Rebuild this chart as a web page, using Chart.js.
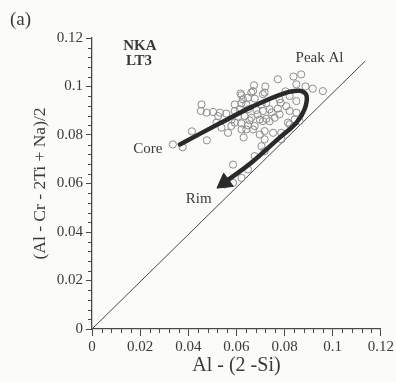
<!DOCTYPE html>
<html>
<head>
<meta charset="utf-8">
<script src="https://cdn.jsdelivr.net/npm/chart.js@4/dist/chart.umd.min.js"></script>
<style>
  html, body { margin: 0; padding: 0; background: #fbfbf9; }
  canvas { display: block; }
</style>
</head>
<body>
<canvas id="chart" width="396" height="382"></canvas>
<script>
// Analyses: x = Al - (2 - Si), y = (Al - Cr - 2Ti + Na)/2
const pointsX = [
  0.0336, 0.0377, 0.0415, 0.0477, 0.0455, 0.0452, 0.0476, 0.0503, 0.0531, 0.0558,
  0.0517, 0.0565, 0.0593, 0.0621, 0.0641, 0.0621, 0.0648, 0.0676, 0.0673, 0.0720,
  0.0669, 0.0710, 0.0704, 0.0724, 0.0593, 0.0614, 0.0648, 0.0683, 0.0710, 0.0738,
  0.0772, 0.0784, 0.0607, 0.0634, 0.0662, 0.0697, 0.0724, 0.0759, 0.0779, 0.0593,
  0.0621, 0.0648, 0.0676, 0.0710, 0.0738, 0.0621, 0.0641, 0.0669, 0.0717, 0.0524,
  0.0579, 0.0538, 0.0717, 0.0752, 0.0786, 0.0821, 0.0842, 0.0704, 0.0717, 0.0676,
  0.0586, 0.0648, 0.0621, 0.0586, 0.0551, 0.0869, 0.0837, 0.0772, 0.0849, 0.0887,
  0.0917, 0.0959, 0.0821, 0.0779, 0.0849, 0.0807, 0.0821, 0.0849, 0.0862, 0.0814,
  0.0627, 0.0717, 0.0662, 0.0617, 0.0787, 0.0688, 0.0746, 0.0655, 0.0630, 0.0697,
  0.0580, 0.0804
];
const pointsY = [
  0.0761, 0.0749, 0.0815, 0.0778, 0.0926, 0.0899, 0.0892, 0.0895, 0.0892, 0.0888,
  0.0851, 0.0809, 0.0926, 0.0931, 0.0926, 0.0964, 0.0954, 0.0950, 0.1005, 0.1000,
  0.0981, 0.0968, 0.0926, 0.0931, 0.0899, 0.0906, 0.0906, 0.0903, 0.0899, 0.0906,
  0.0909, 0.0933, 0.0876, 0.0878, 0.0871, 0.0864, 0.0867, 0.0871, 0.0885, 0.0851,
  0.0848, 0.0840, 0.0837, 0.0857, 0.0857, 0.0823, 0.0823, 0.0823, 0.0782, 0.0878,
  0.0837, 0.0830, 0.0816, 0.0809, 0.0809, 0.0844, 0.0864, 0.0754, 0.0733, 0.0713,
  0.0678, 0.0658, 0.0623, 0.0603, 0.0596, 0.1050, 0.1041, 0.1030, 0.1009, 0.1000,
  0.0991, 0.0981, 0.0961, 0.0947, 0.0940, 0.0919, 0.0899, 0.0892, 0.0857, 0.0851,
  0.0947, 0.0975, 0.0975, 0.0971, 0.0782, 0.0885, 0.0893, 0.0860, 0.0790, 0.0802,
  0.0864, 0.0980
];

// Core -> peak Al -> rim trend
const arrowX = [0.0365, 0.0531, 0.0668, 0.0792, 0.0862, 0.0891, 0.0883, 0.0850, 0.0771, 0.0668, 0.0551];
const arrowY = [0.0761, 0.0848, 0.0918, 0.0970, 0.0982, 0.0964, 0.0906, 0.0852, 0.0782, 0.0691, 0.0604];

// Reference line
const refX = [0, 0.1135];
const refY = [0, 0.1105];

const tickLabels = ['0', '0.02', '0.04', '0.06', '0.08', '0.1', '0.12'];
const majorStep = 0.02;
const minorStep = 0.004;

const INK = '#3a3a3a';
const AXIS = '#4a4a4a';
const SERIF = '"Liberation Serif", "DejaVu Serif", serif';

const zip = (xs, ys) => xs.map((v, i) => ({ x: v, y: ys[i] }));

const notes = [
  { text: 'NKA', x: 0.0199, y: 0.1166, bold: true, size: 15 },
  { text: 'LT3', x: 0.0195, y: 0.1104, bold: true, size: 15 },
  { text: 'Peak Al', x: 0.0945, y: 0.1117, size: 15 },
  { text: 'Core', x: 0.0232, y: 0.0740, size: 15 },
  { text: 'Rim', x: 0.0443, y: 0.0536, size: 15 }
];

const minorTicks = {
  id: 'minorTicks',
  afterDatasetsDraw(chart) {
    const { ctx, scales: { x, y } } = chart;
    ctx.save();
    ctx.strokeStyle = AXIS;
    ctx.lineWidth = 1;
    const n = Math.round(0.12 / minorStep);
    for (let i = 0; i <= n; i++) {
      if (i % 5 === 0) continue;
      const v = i * minorStep;
      const px = Math.round(x.getPixelForValue(v)) + 0.5;
      ctx.beginPath();
      ctx.moveTo(px, y.bottom);
      ctx.lineTo(px, y.bottom + 4);
      ctx.stroke();
      const py = Math.round(y.getPixelForValue(v)) + 0.5;
      ctx.beginPath();
      ctx.moveTo(x.left, py);
      ctx.lineTo(x.left - 4, py);
      ctx.stroke();
    }
    ctx.restore();
  }
};

const labels = {
  id: 'labels',
  afterDraw(chart) {
    const { ctx, scales: { x, y } } = chart;
    ctx.save();
    ctx.fillStyle = INK;
    ctx.textAlign = 'center';
    ctx.textBaseline = 'middle';
    notes.forEach(n => {
      ctx.font = (n.bold ? 'bold ' : '') + n.size + 'px ' + SERIF;
      ctx.fillText(n.text, x.getPixelForValue(n.x), y.getPixelForValue(n.y));
    });
    ctx.font = '19px ' + SERIF;
    ctx.textAlign = 'left';
    ctx.fillText('(a)', 10, 20);
    ctx.restore();
  }
};

const tickLabel = v => tickLabels[Math.round(v / majorStep)];

new Chart(document.getElementById('chart'), {
  type: 'scatter',
  data: {
    datasets: [
      {
        data: zip(refX, refY),
        showLine: true,
        borderColor: AXIS,
        borderWidth: 1,
        pointRadius: 0,
        order: 3
      },
      {
        data: zip(pointsX, pointsY),
        pointStyle: 'circle',
        pointRadius: 3.6,
        backgroundColor: 'rgba(0,0,0,0)',
        borderColor: '#8c8c8c',
        borderWidth: 1,
        order: 2
      },
      {
        data: zip(arrowX, arrowY),
        showLine: true,
        tension: 0.35,
        borderColor: '#2a2a2a',
        borderWidth: 4.5,
        borderCapStyle: 'round',
        pointRadius: 0,
        order: 1
      },
      {
        data: zip(arrowX.slice(-1), arrowY.slice(-1)),
        pointStyle: 'triangle',
        pointRadius: 9.5,
        rotation: 234,
        backgroundColor: '#2a2a2a',
        borderColor: '#2a2a2a',
        borderWidth: 1,
        order: 0
      }
    ]
  },
  options: {
    responsive: false,
    animation: false,
    devicePixelRatio: 1,
    layout: { padding: { top: 38, right: 15, left: 0, bottom: 0 } },
    plugins: { legend: { display: false }, tooltip: { enabled: false } },
    scales: {
      x: {
        type: 'linear',
        min: 0,
        max: 0.12,
        afterFit: s => { s.height = 53; },
        ticks: {
          stepSize: majorStep,
          callback: tickLabel,
          color: INK,
          padding: 2,
          maxRotation: 0,
          font: { family: SERIF, size: 15 }
        },
        grid: { drawOnChartArea: false, tickLength: 7, color: AXIS, tickWidth: 1 },
        border: { color: AXIS, width: 1.3 },
        title: {
          display: true,
          text: 'Al - (2 -Si)',
          color: INK,
          font: { family: SERIF, size: 20 },
          padding: { bottom: 4 }
        }
      },
      y: {
        type: 'linear',
        min: 0,
        max: 0.12,
        afterFit: s => { s.width = 92; },
        ticks: {
          stepSize: majorStep,
          callback: tickLabel,
          color: INK,
          padding: 3,
          font: { family: SERIF, size: 15 }
        },
        grid: { drawOnChartArea: false, tickLength: 6, color: AXIS, tickWidth: 1 },
        border: { color: AXIS, width: 1.3 },
        title: {
          display: true,
          text: '(Al - Cr - 2Ti + Na)/2',
          color: INK,
          font: { family: SERIF, size: 17.5 },
          padding: { top: 30 }
        }
      }
    }
  },
  plugins: [minorTicks, labels]
});
</script>
</body>
</html>
